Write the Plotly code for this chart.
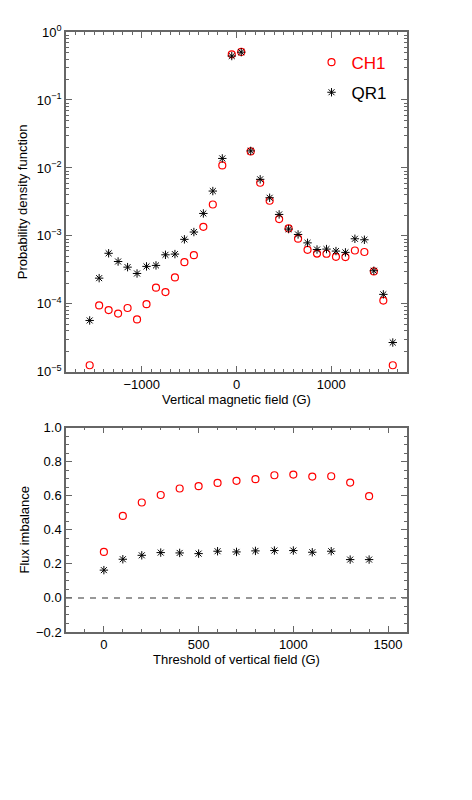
import plotly.graph_objects as go

# ---- data: top panel (PDF) ----
bfield = [-1550, -1450, -1350, -1250, -1150, -1050, -950, -850, -750, -650, -550,
          -450, -350, -250, -150, -50, 50, 150, 250, 350, 450, 550, 650, 750, 850,
          950, 1050, 1150, 1250, 1350, 1450, 1550, 1650]
pdf_ch1 = [1.25e-5, 9.5e-5, 8.1e-5, 7.2e-5, 8.7e-5, 5.9e-5, 9.9e-5, 1.73e-4, 1.49e-4,
           2.45e-4, 4.1e-4, 5.2e-4, 1.36e-3, 2.9e-3, 1.09e-2, 0.47, 0.51, 0.0175,
           6.05e-3, 3.29e-3, 1.77e-3, 1.29e-3, 9.1e-4, 6.25e-4, 5.5e-4, 5.46e-4,
           4.93e-4, 4.88e-4, 6.1e-4, 5.8e-4, 3.0e-4, 1.12e-4, 1.25e-5]
pdf_qr1 = [5.7e-5, 2.39e-4, 5.55e-4, 4.2e-4, 3.47e-4, 2.8e-4, 3.56e-4, 3.68e-4, 5.27e-4,
           5.4e-4, 8.9e-4, 1.14e-3, 2.14e-3, 4.57e-3, 1.38e-2, 0.443, 0.505, 0.0178,
           6.8e-3, 3.64e-3, 2.07e-3, 1.26e-3, 1.05e-3, 7.9e-4, 6.3e-4, 6.4e-4,
           5.98e-4, 5.72e-4, 9.07e-4, 8.77e-4, 3.07e-4, 1.38e-4, 2.7e-5]

# ---- data: bottom panel (flux imbalance) ----
threshold = [0, 100, 200, 300, 400, 500, 600, 700, 800, 900, 1000, 1100, 1200, 1300, 1400]
imb_ch1 = [0.27, 0.481, 0.56, 0.604, 0.642, 0.656, 0.675, 0.687, 0.697, 0.72, 0.724,
           0.712, 0.714, 0.677, 0.597]
imb_qr1 = [0.163, 0.227, 0.25, 0.266, 0.264, 0.26, 0.274, 0.27, 0.276, 0.278, 0.278,
           0.268, 0.274, 0.225, 0.225]

# tick labels
log_tickvals = [1e-5, 1e-4, 1e-3, 1e-2, 1e-1, 1]
log_ticktext = ["10<sup>\u22125</sup>", "10<sup>\u22124</sup>", "10<sup>\u22123</sup>",
                "10<sup>\u22122</sup>", "10<sup>\u22121</sup>", "10<sup>0</sup>"]
top_xticks = [-1000, 0, 1000]
top_xticktext = ["\u22121000", "0", "1000"]
bot_yticks = [-0.2, 0.0, 0.2, 0.4, 0.6, 0.8, 1.0]
bot_yticktext = ["\u22120.2", "0.0", "0.2", "0.4", "0.6", "0.8", "1.0"]

RED = "#ff0000"
AX = "#666666"
FONT = "Liberation Sans, Arial, Helvetica, sans-serif"

fig = go.Figure()

circ = dict(symbol="circle-open", size=7, color=RED, line=dict(width=1.2, color=RED))
star = dict(symbol="asterisk-open", size=7, color="black", line=dict(width=1, color="black"))

fig.add_trace(go.Scatter(x=bfield, y=pdf_ch1, mode="markers", marker=circ,
                         name="<span style='color:#ff0000'>CH1</span>",
                         legendgroup="a", xaxis="x", yaxis="y"))
fig.add_trace(go.Scatter(x=bfield, y=pdf_qr1, mode="markers", marker=star,
                         name="QR1", legendgroup="b", xaxis="x", yaxis="y"))
fig.add_trace(go.Scatter(x=threshold, y=imb_ch1, mode="markers", marker=circ,
                         showlegend=False, xaxis="x2", yaxis="y2"))
fig.add_trace(go.Scatter(x=threshold, y=imb_qr1, mode="markers", marker=star,
                         showlegend=False, xaxis="x2", yaxis="y2"))

axis_common = dict(showline=True, linecolor=AX, linewidth=1.5, mirror="allticks",
                   ticks="inside", tickcolor=AX, tickwidth=1, ticklen=6,
                   showgrid=False, zeroline=False,
                   tickfont=dict(family=FONT, size=13, color="black"))

fig.update_layout(
    width=472, height=800,
    margin=dict(l=58, r=73, t=24, b=176),
    paper_bgcolor="white", plot_bgcolor="white",
    font=dict(family=FONT, size=13, color="black"),
    showlegend=True,
    legend=dict(x=0.720, y=0.979, xanchor="left", yanchor="top",
                bgcolor="rgba(0,0,0,0)", font=dict(family=FONT, size=17, color="black"),
                traceorder="grouped", tracegroupgap=5),
    xaxis=dict(domain=[0, 1], anchor="y", range=[-1800, 1800],
               tickvals=top_xticks, ticktext=top_xticktext,
               minor=dict(dtick=100, tick0=0, ticks="inside", ticklen=3, tickcolor=AX),
               title=dict(text="Vertical magnetic field (G)", standoff=2,
                          font=dict(family=FONT, size=13)),
               **axis_common),
    yaxis=dict(domain=[0.4336, 1], anchor="x", type="log", range=[-5, 0],
               tickvals=log_tickvals, ticktext=log_ticktext,
               minor=dict(dtick="D1", ticks="inside", ticklen=3, tickcolor=AX),
               title=dict(text="Probability density function", standoff=6,
                          font=dict(family=FONT, size=13)),
               **axis_common),
    xaxis2=dict(domain=[0, 1], anchor="y2", range=[-200, 1600],
                tickvals=[0, 500, 1000, 1500],
                minor=dict(dtick=100, tick0=0, ticks="inside", ticklen=3, tickcolor=AX),
                title=dict(text="Threshold of vertical field (G)", standoff=2,
                           font=dict(family=FONT, size=13)),
                **axis_common),
    yaxis2=dict(domain=[0, 0.3408], anchor="x2", range=[-0.2, 1.0],
                tickvals=bot_yticks, ticktext=bot_yticktext,
                minor=dict(dtick=0.05, tick0=0, ticks="inside", ticklen=3, tickcolor=AX),
                title=dict(text="Flux imbalance", standoff=3,
                           font=dict(family=FONT, size=13)),
                **axis_common),
    shapes=[dict(type="line", xref="x2 domain", yref="y2", x0=0, x1=1, y0=0, y1=0,
                 line=dict(color="#777777", width=1.5, dash="6px,6px"))],
)

fig.write_html("out.html")
